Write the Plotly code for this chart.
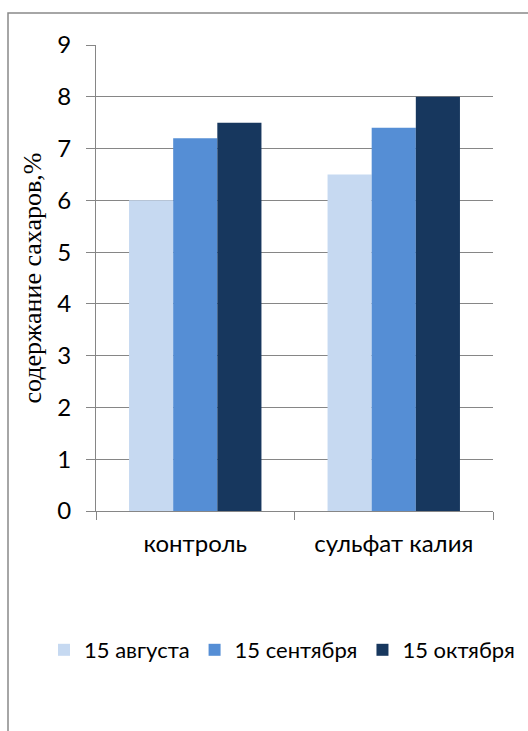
import plotly.graph_objects as go

categories = ["контроль", "сульфат калия"]
series_names = ["15 августа", "15 сентября", "15 октября"]
series_values = [
    [6.0, 6.5],
    [7.2, 7.4],
    [7.5, 8.0],
]
series_colors = ["#C6D9F1", "#558ED5", "#17375E"]
y_ticks = [0, 1, 2, 3, 4, 5, 6, 7, 8, 9]

W, H = 528, 731
L, R, T, B = 96, 35, 45, 220
plot_w = W - L - R
plot_h = H - T - B

fig = go.Figure()
for name, vals, col in zip(series_names, series_values, series_colors):
    fig.add_trace(go.Bar(
        x=categories, y=vals, name=name,
        marker=dict(color=col, line=dict(width=0)),
    ))

label_font = dict(family="Lato, Open Sans, sans-serif", size=24, color="#000000")
legend_font = dict(family="Lato, Open Sans, sans-serif", size=22, color="#000000")
grid_col = "#868686"

fig.update_layout(
    width=W, height=H,
    margin=dict(l=L, r=R, t=T, b=B, pad=0),
    paper_bgcolor="white", plot_bgcolor="white",
    barmode="group", bargap=0.333, bargroupgap=0,
    font=label_font,
    showlegend=True,
    legend=dict(
        orientation="h", x=(44 - L) / plot_w, xanchor="left",
        y=(H - B - 650) / plot_h, yanchor="middle",
        font=legend_font, itemwidth=30, traceorder="normal",
        tracegroupgap=0, borderwidth=0,
    ),
    xaxis=dict(
        type="category", tickson="boundaries",
        showline=True, linecolor=grid_col, linewidth=1,
        ticks="outside", ticklen=8, tickcolor=grid_col,
        showgrid=False, tickfont=label_font, ticklabelstandoff=11,
    ),
    yaxis=dict(
        range=[0, 9], tickvals=y_ticks,
        showline=True, linecolor=grid_col, linewidth=1,
        ticks="outside", ticklen=9, tickcolor=grid_col,
        showgrid=True, gridcolor=grid_col, gridwidth=1,
        zeroline=False, tickfont=label_font, ticklabelstandoff=10,
        title=dict(text="содержание сахаров,%",
                   font=dict(family="Liberation Serif, Times New Roman, serif", size=26, color="#000000"),
                   standoff=8),
    ),
)

# outer chart-area frame
fig.add_shape(
    type="rect", xref="paper", yref="paper",
    x0=(8 - L) / plot_w, x1=(W + 20 - L) / plot_w,
    y0=(H - B - (H + 20)) / plot_h, y1=(H - B - 13) / plot_h,
    line=dict(color="#898989", width=1.5), fillcolor="rgba(0,0,0,0)", layer="below",
)

fig.write_html("out.html")
